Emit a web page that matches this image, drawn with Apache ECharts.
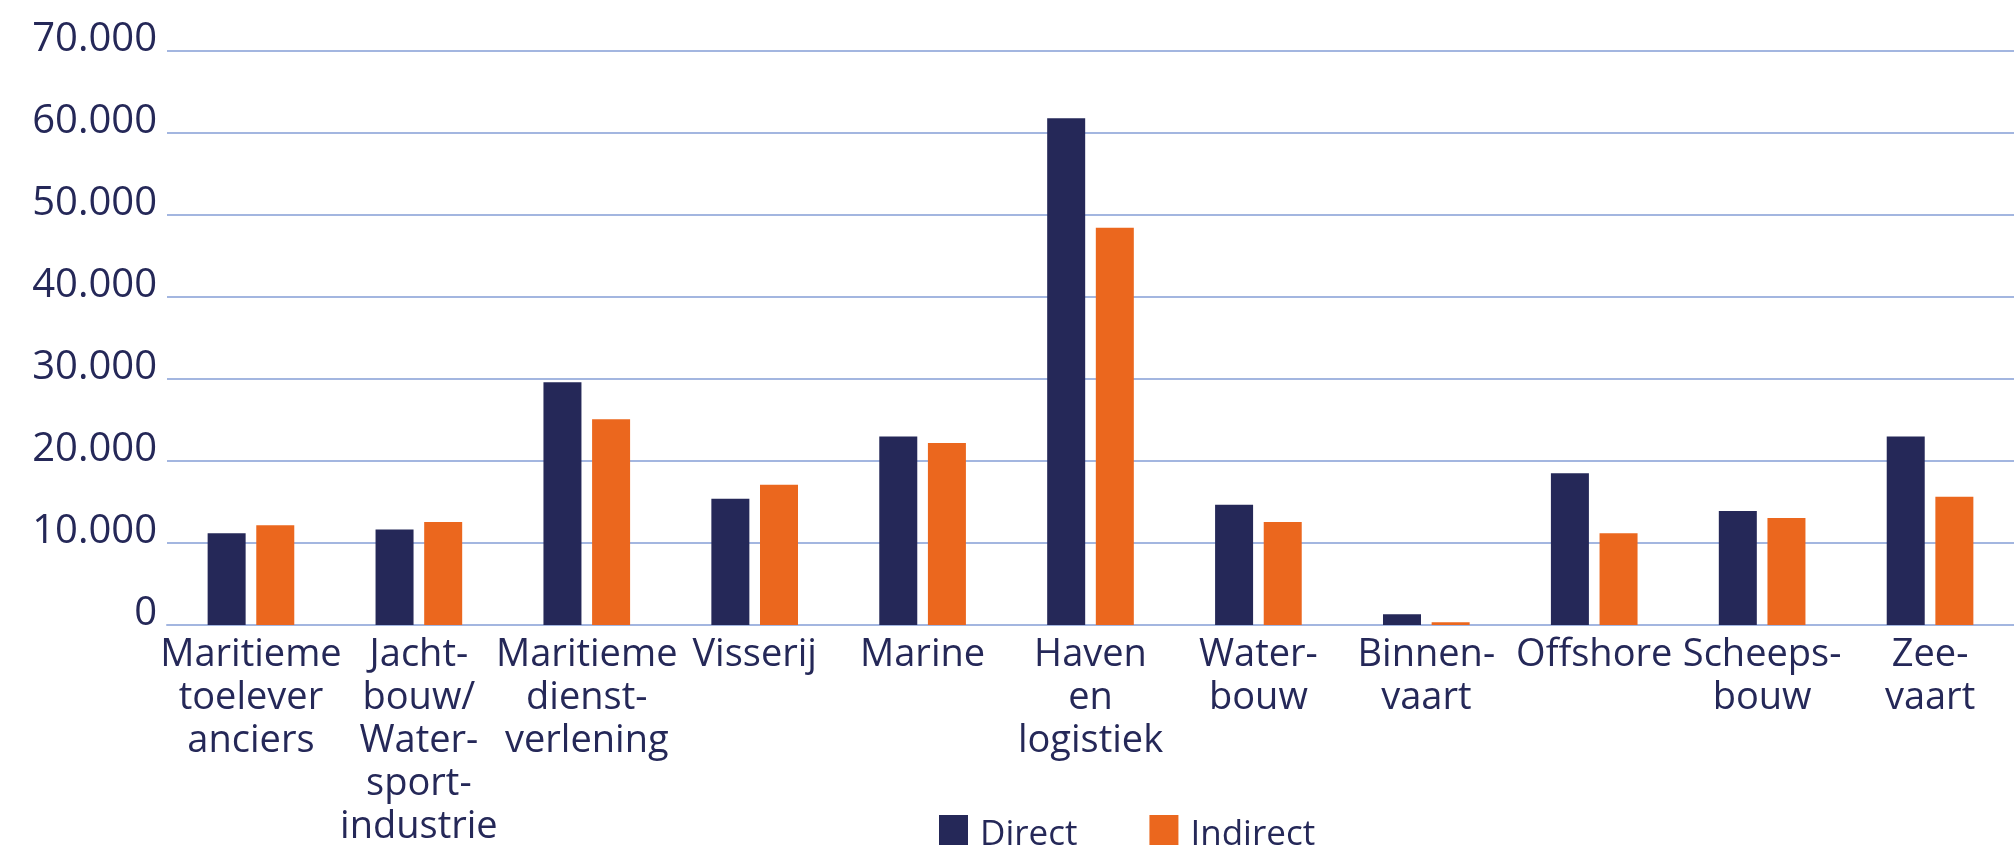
<!DOCTYPE html>
<html>
<head>
<meta charset="utf-8">
<title>Werkgelegenheid maritieme sectoren</title>
<script src="https://cdn.jsdelivr.net/npm/echarts@6/dist/echarts.min.js"></script>
<style>
  html, body {
    margin: 0;
    padding: 0;
    background: #ffffff;
  }
  #chart {
    width: 2014px;
    height: 845px;
  }
</style>
</head>
<body>
<div id="chart"></div>
<script>
// sectoren (met afbreking zoals in het origineel)
const categories = [
  'Maritieme\ntoelever\nanciers',
  'Jacht-\nbouw/\nWater-\nsport-\nindustrie',
  'Maritieme\ndienst-\nverlening',
  'Visserij',
  'Marine',
  'Haven\nen\nlogistiek',
  'Water-\nbouw',
  'Binnen-\nvaart',
  'Offshore',
  'Scheeps-\nbouw',
  'Zee-\nvaart'
]

// werkzame personen
const directValues = [11200, 11650, 29600, 15400, 23000, 61800, 14650, 1300, 18500, 13900, 23000]
const indirectValues = [12150, 12550, 25100, 17100, 22200, 48450, 12550, 350, 11200, 13050, 15650]

const yTickLabels = ['0', '10.000', '20.000', '30.000', '40.000', '50.000', '60.000', '70.000']

const navy = '#252858'
const orange = '#eb671e'
const gridColor = '#a3b6e0'

const chart = echarts.init(document.getElementById('chart'))

const option = {
  animation: false,
  textStyle: {
    fontFamily: 'Open Sans'
  },
  grid: {
    left: 167,
    right: 0,
    top: 51,
    bottom: 220,
    outerBoundsMode: 'none'
  },
  legend: {
    data: ['Direct', 'Indirect'],
    left: 934,
    top: 810,
    icon: 'rect',
    itemWidth: 29,
    itemHeight: 40,
    itemGap: 72,
    textStyle: {
      color: navy,
      fontSize: 35,
      padding: [0, 0, 0, 7]
    }
  },
  xAxis: {
    type: 'category',
    data: categories,
    axisTick: { show: false },
    axisLine: {
      lineStyle: { color: gridColor, width: 2 }
    },
    axisLabel: {
      interval: 0,
      color: navy,
      fontSize: 38,
      lineHeight: 43,
      margin: 9
    }
  },
  yAxis: {
    type: 'value',
    min: 0,
    max: 70000,
    interval: 10000,
    axisLine: { show: false },
    axisTick: { show: false },
    splitLine: {
      lineStyle: { color: gridColor, width: 2 }
    },
    axisLabel: {
      color: navy,
      fontSize: 40,
      margin: 10,
      verticalAlign: 'bottom',
      lineHeight: 22,
      formatter: function (v) {
        return yTickLabels[Math.round(v / 10000)]
      }
    }
  },
  series: [
    {
      name: 'Direct',
      type: 'bar',
      data: directValues,
      barWidth: 38,
      barGap: '28%',
      itemStyle: { color: navy }
    },
    {
      name: 'Indirect',
      type: 'bar',
      data: indirectValues,
      barWidth: 38,
      itemStyle: { color: orange }
    }
  ]
}

chart.setOption(option)
</script>
</body>
</html>
